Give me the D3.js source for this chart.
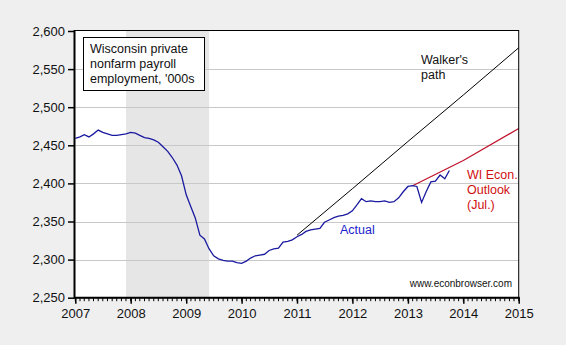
<!DOCTYPE html>
<html>
<head>
<meta charset="utf-8">
<script src="https://cdn.jsdelivr.net/npm/d3@7"></script>
<style>
  html, body { margin: 0; padding: 0; background: #efefef; }
  svg { display: block; font-family: Arial, "Liberation Sans", sans-serif; }
</style>
</head>
<body>
<svg id="chart" width="566" height="345"></svg>
<script>
// ---- data ----
const actualStart = [2007, 0]; // Jan 2007, monthly
const actualValues = [
  2459, 2461, 2464, 2461, 2465, 2470, 2467, 2465, 2463, 2463, 2464, 2465,
  2467, 2466, 2463, 2460, 2459, 2457, 2454, 2448, 2442, 2434, 2424, 2410,
  2385, 2369, 2355, 2332, 2327, 2314, 2305, 2301, 2299, 2298, 2298, 2296,
  2295, 2298, 2302, 2305, 2306, 2307, 2312, 2314, 2315, 2323, 2324, 2326,
  2330, 2333, 2337, 2339, 2340, 2341, 2349, 2352, 2355, 2357, 2358, 2360,
  2364, 2372, 2380, 2376, 2377, 2376, 2376, 2377, 2375, 2376, 2381, 2389,
  2396, 2397, 2396, 2375, 2389, 2402, 2403, 2411, 2406, 2417
];
const walkerDates = ["2011-01", "2012-01", "2013-01", "2014-01", "2015-01"];
const walkerValues = [2332, 2393, 2455, 2516, 2578];
const outlookDates = ["2013-02", "2014-01", "2015-01"];
const outlookValues = [2397, 2430, 2472];
const recession = ["2007-12", "2009-06"];
const yTicks = [2250, 2300, 2350, 2400, 2450, 2500, 2550, 2600];
const yearTicks = [2007, 2008, 2009, 2010, 2011, 2012, 2013, 2014, 2015];
const boxLines = ["Wisconsin private", "nonfarm payroll", "employment, '000s"];
const walkerLabel = ["Walker's", "path"];
const outlookLabel = ["WI Econ.", "Outlook", "(Jul.)"];
const actualLabel = "Actual";
const sourceLabel = "www.econbrowser.com";

// ---- helpers ----
const parseM = d3.timeParse("%Y-%m");
const actual = actualValues.map((v, i) => ({ date: new Date(actualStart[0], actualStart[1] + i, 1), value: v }));
const walker = walkerDates.map((d, i) => ({ date: parseM(d), value: walkerValues[i] }));
const outlook = outlookDates.map((d, i) => ({ date: parseM(d), value: outlookValues[i] }));

const L = 74.5, R = 518.7, T = 31, B = 297.7;
const svg = d3.select("#chart");
const x = d3.scaleTime().domain([new Date(2007, 0, 1), new Date(2015, 0, 1)]).range([75.3, 518.7]);
const y = d3.scaleLinear().domain([2250, 2600]).range([B, T]);

// plot background
svg.append("rect").attr("x", L).attr("y", T).attr("width", R - L).attr("height", B - T).attr("fill", "#ffffff");

// recession shading
svg.append("rect")
  .attr("x", x(parseM(recession[0]))).attr("y", T)
  .attr("width", x(parseM(recession[1])) - x(parseM(recession[0])))
  .attr("height", B - T).attr("fill", "#e6e6e6");

// gridlines
svg.append("g").selectAll("line").data(yTicks.slice(1, -1)).join("line")
  .attr("x1", L).attr("x2", R)
  .attr("y1", d => Math.round(y(d)) + 0.5).attr("y2", d => Math.round(y(d)) + 0.5)
  .attr("stroke", "#c8c8c8").attr("stroke-width", 1);

// lines
const line = d3.line().x(d => x(d.date)).y(d => y(d.value));
svg.append("path").datum(walker).attr("d", line).attr("fill", "none").attr("stroke", "#000000").attr("stroke-width", 1);
svg.append("path").datum(outlook).attr("d", line).attr("fill", "none").attr("stroke", "#c0102a").attr("stroke-width", 1.2);
svg.append("path").datum(actual).attr("d", line).attr("fill", "none").attr("stroke", "#1a1aa0").attr("stroke-width", 1.3);

// frame
svg.append("rect").attr("x", L).attr("y", T - 0.5).attr("width", R - L).attr("height", B - T + 0.5)
  .attr("fill", "none").attr("stroke", "#000").attr("stroke-width", 1);
svg.append("line").attr("x1", L).attr("x2", L).attr("y1", T - 1).attr("y2", B + 1).attr("stroke", "#000").attr("stroke-width", 2);
svg.append("line").attr("x1", L).attr("x2", R + 1).attr("y1", B).attr("y2", B).attr("stroke", "#000").attr("stroke-width", 2);

// y axis
const yAxis = d3.axisLeft(y).tickValues(yTicks).tickFormat(d3.format(",")).tickSize(6).tickPadding(3);
const gy = svg.append("g").attr("transform", `translate(${L - 0.5},0)`).call(yAxis);
gy.select(".domain").remove();
gy.selectAll("line").attr("stroke", "#000").attr("stroke-width", 1.5);
gy.selectAll("text").attr("font-size", 13).attr("fill", "#111").attr("font-family", "Arial, 'Liberation Sans', sans-serif");

// x axis: monthly minor ticks
const months = d3.timeMonth.range(new Date(2007, 0, 1), new Date(2015, 0, 2));
svg.append("g").selectAll("line").data(months).join("line")
  .attr("x1", d => x(d)).attr("x2", d => x(d))
  .attr("y1", B).attr("y2", B + 3.5)
  .attr("stroke", "#000").attr("stroke-width", 1);
const xAxis = d3.axisBottom(x).tickValues(yearTicks.map(yr => new Date(yr, 0, 1)))
  .tickFormat(d3.timeFormat("%Y")).tickSize(6).tickPadding(5);
const gx = svg.append("g").attr("transform", `translate(0,${B})`).call(xAxis);
gx.select(".domain").remove();
gx.selectAll("line").attr("stroke", "#000").attr("stroke-width", 1.5);
gx.selectAll("text").attr("font-size", 13).attr("fill", "#111").attr("font-family", "Arial, 'Liberation Sans', sans-serif");

// legend box
svg.append("rect").attr("x", 83.5).attr("y", 37.5).attr("width", 121).attr("height", 53)
  .attr("fill", "#fff").attr("stroke", "#000").attr("stroke-width", 1);
svg.append("g").selectAll("text").data(boxLines).join("text")
  .attr("x", 90).attr("y", (d, i) => 53.3 + i * 15).attr("font-size", 12.5).attr("fill", "#111").text(d => d);

// annotations
svg.append("g").selectAll("text").data(walkerLabel).join("text")
  .attr("x", 421).attr("y", (d, i) => 64 + i * 15).attr("font-size", 12.5).attr("fill", "#111").text(d => d);
svg.append("g").selectAll("text").data(outlookLabel).join("text")
  .attr("x", 467).attr("y", (d, i) => 179.3 + i * 15).attr("font-size", 12.5).attr("fill", "#d01010").text(d => d);
svg.append("text").attr("x", 340).attr("y", 234.3).attr("font-size", 12.5).attr("fill", "#2222cc").text(actualLabel);
svg.append("text").attr("x", 512).attr("y", 286.7).attr("text-anchor", "end").attr("font-size", 10).attr("fill", "#111").text(sourceLabel);
</script>
</body>
</html>
